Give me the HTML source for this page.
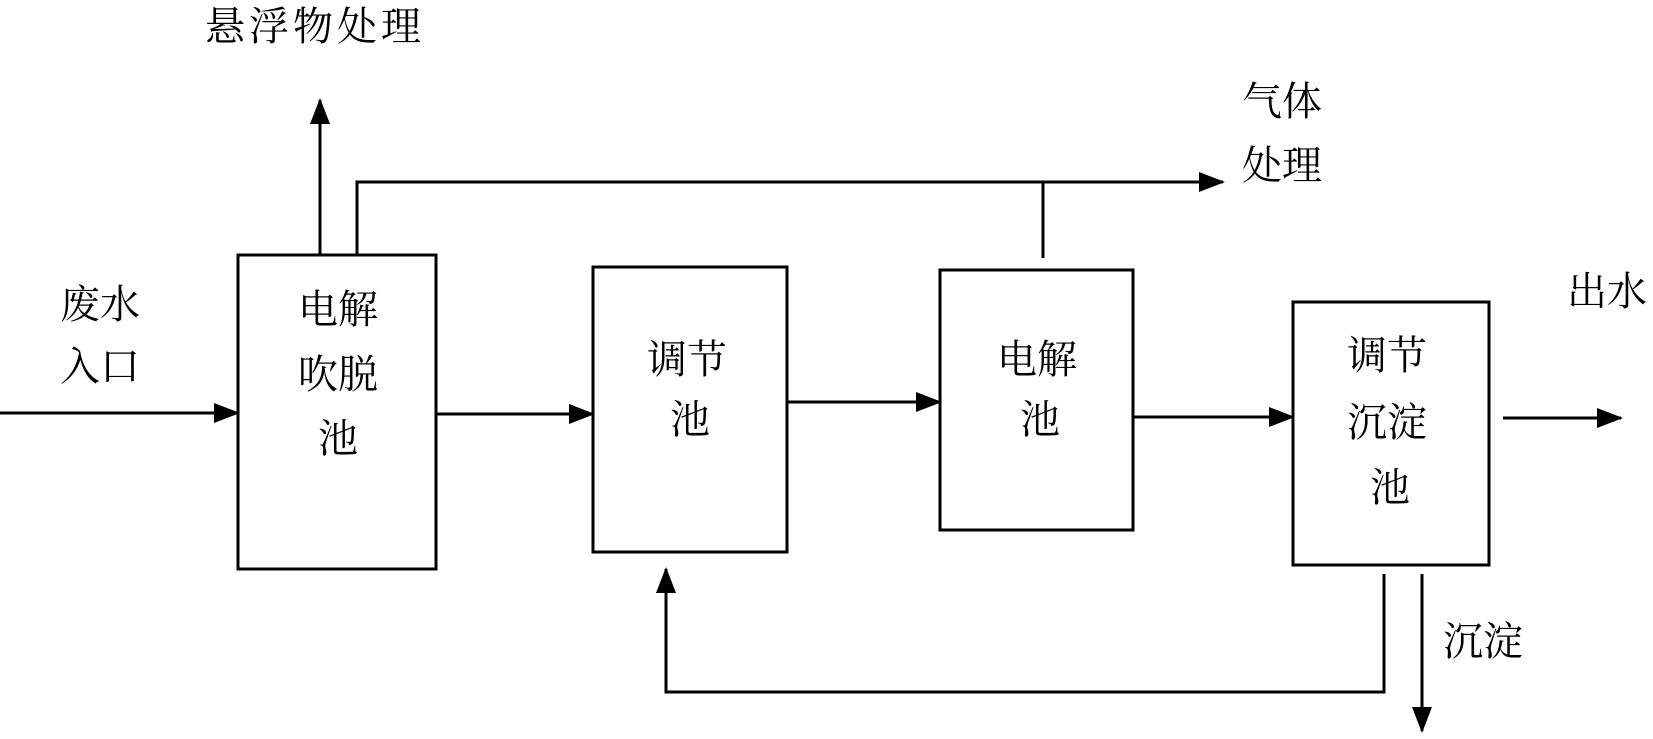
<!DOCTYPE html>
<html><head><meta charset="utf-8"><style>
body{margin:0;background:#fff;}
svg text{font-family:"Liberation Serif","Noto Serif CJK SC","Noto Sans CJK SC",serif;font-size:40px;fill:#000;}
</style></head><body>
<svg width="1653" height="734" viewBox="0 0 1653 734" xmlns="http://www.w3.org/2000/svg">
<defs>
<marker id="b" markerWidth="26" markerHeight="22" refX="24" refY="11" orient="auto" markerUnits="userSpaceOnUse"><path d="M0,1 L26,11 L0,21 z" fill="#000"/></marker></defs>
<g stroke="#000" stroke-width="3" fill="none">
<rect x="238" y="255" width="198" height="314"/>
<rect x="593" y="267" width="194" height="285"/>
<rect x="940" y="270" width="193" height="260"/>
<rect x="1293" y="302" width="196" height="263"/>
<line x1="0" y1="413" x2="238" y2="413" marker-end="url(#b)"/>
<line x1="436" y1="414" x2="593" y2="414" marker-end="url(#b)"/>
<line x1="787" y1="402" x2="940" y2="402" marker-end="url(#b)"/>
<line x1="1133" y1="417" x2="1293" y2="417" marker-end="url(#b)"/>
<line x1="1503" y1="418" x2="1621" y2="418" marker-end="url(#b)"/>
<line x1="320" y1="255" x2="320" y2="100" marker-end="url(#b)"/>
<polyline points="357,255 357,182 1223,182" marker-end="url(#b)"/>
<line x1="1043" y1="182" x2="1043" y2="258"/>
<polyline points="1384,574 1384,692 666,692 666,569" marker-end="url(#b)"/>
<line x1="1422" y1="574" x2="1422" y2="731" marker-end="url(#b)"/>
</g>
<text x="205" y="40" letter-spacing="4">悬浮物处理</text>
<text x="1242" y="115">气体</text>
<text x="1242" y="179">处理</text>
<text x="60" y="318">废水</text>
<text x="60" y="380">入口</text>
<text x="1567" y="305">出水</text>
<text x="1443" y="655">沉淀</text>
<text x="298" y="323">电解</text>
<text x="298" y="388">吹脱</text>
<text x="318" y="452">池</text>
<text x="647" y="373">调节</text>
<text x="670" y="433">池</text>
<text x="997" y="373">电解</text>
<text x="1020" y="433">池</text>
<text x="1347" y="369">调节</text>
<text x="1347" y="436">沉淀</text>
<text x="1370" y="501">池</text>
</svg>
</body></html>
